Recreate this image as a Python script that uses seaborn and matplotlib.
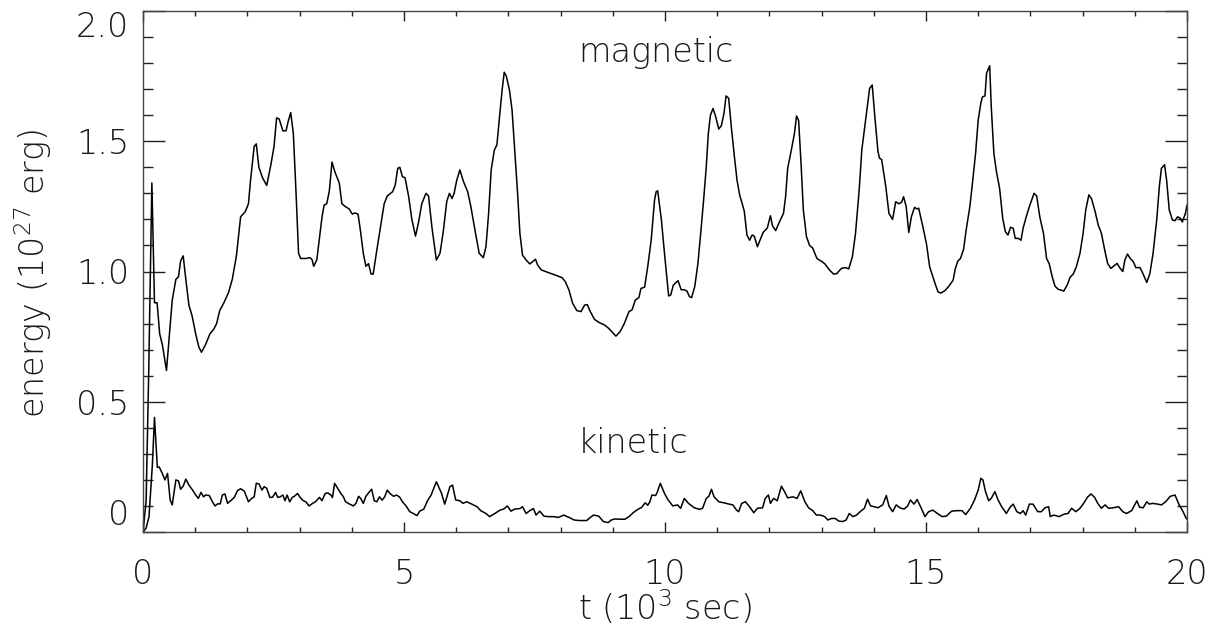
import numpy as np
import pandas as pd
import matplotlib
matplotlib.use("Agg")
import matplotlib.pyplot as plt
from matplotlib.ticker import MultipleLocator, FixedLocator, FixedFormatter
import seaborn as sns

# ---------------- data ----------------
mag_t = [0.00, 0.06, 0.11, 0.17, 0.22, 0.27, 0.32, 0.37, 0.45, 0.56, 0.63, 0.68, 0.72, 0.77, 0.82, 0.88, 0.94,
         1.01, 1.07, 1.12, 1.20, 1.28, 1.36, 1.41, 1.47, 1.55, 1.64, 1.71, 1.79, 1.87, 1.96, 2.02, 2.06, 2.13,
         2.17, 2.22, 2.29, 2.37, 2.45, 2.51, 2.56, 2.61, 2.68, 2.74, 2.78, 2.83, 2.88, 2.93, 2.98, 3.02, 3.12,
         3.20, 3.24, 3.27, 3.33, 3.37, 3.43, 3.47, 3.52, 3.57, 3.62, 3.68, 3.76, 3.81, 3.87, 3.95, 4.01, 4.06,
         4.12, 4.17, 4.22, 4.27, 4.32, 4.37, 4.41, 4.47, 4.56, 4.62, 4.68, 4.78, 4.83, 4.88, 4.92, 4.97, 5.02,
         5.09, 5.15, 5.22, 5.28, 5.34, 5.42, 5.47, 5.535, 5.62, 5.69, 5.75, 5.82, 5.87, 5.92, 5.96, 6.01, 6.07,
         6.14, 6.22, 6.28, 6.37, 6.44, 6.52, 6.57, 6.62, 6.67, 6.73, 6.78, 6.83, 6.88, 6.92, 6.96, 7.02, 7.07,
         7.12, 7.18, 7.22, 7.27, 7.34, 7.41, 7.46, 7.52, 7.56, 7.63, 7.75, 7.85, 7.93, 8.03, 8.09, 8.16, 8.23,
         8.31, 8.39, 8.46, 8.51, 8.57, 8.65, 8.74, 8.84, 8.92, 9.00, 9.06, 9.14, 9.22, 9.31, 9.37, 9.43, 9.50,
         9.54, 9.61, 9.67, 9.735, 9.80, 9.83, 9.86, 9.93, 9.99, 10.07, 10.11, 10.16, 10.25, 10.31, 10.37, 10.42,
         10.47, 10.51, 10.57, 10.63, 10.69, 10.74, 10.79, 10.83, 10.87, 10.92, 10.97, 11.03, 11.08, 11.13,
         11.17, 11.22, 11.27, 11.33, 11.38, 11.43, 11.48, 11.52, 11.57, 11.62, 11.67, 11.71, 11.77, 11.81,
         11.88, 11.96, 12.02, 12.06, 12.12, 12.18, 12.27, 12.31, 12.35, 12.42, 12.48, 12.52, 12.56, 12.61,
         12.65, 12.71, 12.77, 12.83, 12.91, 12.99, 13.06, 13.15, 13.23, 13.29, 13.38, 13.46, 13.52, 13.59,
         13.65, 13.72, 13.77, 13.83, 13.87, 13.92, 13.97, 14.02, 14.08, 14.11, 14.15, 14.23, 14.29, 14.36,
         14.42, 14.48, 14.53, 14.57, 14.62, 14.67, 14.72, 14.78, 14.83, 14.86, 14.94, 15.01, 15.07, 15.14,
         15.18, 15.23, 15.28, 15.36, 15.44, 15.52, 15.56, 15.61, 15.66, 15.72, 15.77, 15.84, 15.89, 15.95,
         16.00, 16.05, 16.08, 16.13, 16.16, 16.22, 16.25, 16.30, 16.35, 16.41, 16.47, 16.52, 16.57, 16.62,
         16.67, 16.71, 16.77, 16.82, 16.86, 16.93, 16.99, 17.07, 17.12, 17.18, 17.25, 17.31, 17.36, 17.42,
         17.47, 17.53, 17.64, 17.71, 17.76, 17.82, 17.88, 17.95, 18.01, 18.06, 18.12, 18.17, 18.24, 18.30,
         18.36, 18.43, 18.48, 18.54, 18.59, 18.66, 18.72, 18.77, 18.81, 18.86, 18.92, 18.97, 19.02, 19.10,
         19.16, 19.23, 19.29, 19.35, 19.42, 19.47, 19.51, 19.57, 19.61, 19.66, 19.72, 19.77, 19.82, 19.87,
         19.91, 19.97, 20.00]
mag_e = [0.00, 0.12, 0.62, 1.34, 0.88, 0.88, 0.76, 0.72, 0.62, 0.89, 0.97, 0.98, 1.04, 1.06, 0.97, 0.87, 0.83,
         0.76, 0.71, 0.69, 0.72, 0.76, 0.78, 0.80, 0.85, 0.88, 0.92, 0.97, 1.06, 1.21, 1.23, 1.26, 1.35, 1.48,
         1.49, 1.40, 1.36, 1.33, 1.41, 1.48, 1.59, 1.585, 1.54, 1.54, 1.575, 1.61, 1.53, 1.31, 1.07, 1.05, 1.05,
         1.053, 1.045, 1.02, 1.045, 1.11, 1.21, 1.255, 1.26, 1.31, 1.42, 1.38, 1.34, 1.26, 1.25, 1.24, 1.22,
         1.225, 1.22, 1.15, 1.07, 1.02, 1.03, 0.99, 0.99, 1.07, 1.185, 1.26, 1.29, 1.306, 1.33, 1.396, 1.40,
         1.364, 1.36, 1.287, 1.20, 1.136, 1.19, 1.26, 1.30, 1.29, 1.17, 1.044, 1.07, 1.15, 1.27, 1.30, 1.28,
         1.30, 1.35, 1.39, 1.345, 1.306, 1.25, 1.147, 1.07, 1.053, 1.095, 1.22, 1.39, 1.466, 1.486, 1.594,
         1.697, 1.765, 1.75, 1.697, 1.62, 1.466, 1.287, 1.147, 1.063, 1.044, 1.029, 1.037, 1.047, 1.025, 1.006,
         0.997, 0.99, 0.984, 0.976, 0.961, 0.929, 0.878, 0.85, 0.846, 0.871, 0.873, 0.846, 0.816, 0.804, 0.795,
         0.782, 0.765, 0.752, 0.769, 0.80, 0.846, 0.853, 0.89, 0.90, 0.935, 0.94, 1.02, 1.12, 1.275, 1.306,
         1.31, 1.20, 1.07, 0.906, 0.91, 0.948, 0.965, 0.93, 0.93, 0.925, 0.903, 0.90, 0.942, 1.03, 1.16, 1.275,
         1.40, 1.53, 1.60, 1.626, 1.595, 1.547, 1.56, 1.607, 1.674, 1.665, 1.556, 1.44, 1.35, 1.294, 1.26,
         1.23, 1.14, 1.12, 1.14, 1.136, 1.095, 1.115, 1.15, 1.167, 1.214, 1.175, 1.157, 1.185, 1.223, 1.287,
         1.396, 1.466, 1.53, 1.597, 1.58, 1.40, 1.236, 1.134, 1.10, 1.09, 1.05, 1.04, 1.03, 1.006, 0.99, 0.992,
         1.012, 1.015, 1.01, 1.057, 1.147, 1.313, 1.466, 1.562, 1.626, 1.703, 1.716, 1.594, 1.46, 1.435, 1.43,
         1.326, 1.223, 1.20, 1.268, 1.26, 1.265, 1.287, 1.25, 1.15, 1.21, 1.246, 1.24, 1.243, 1.172, 1.105,
         1.018, 0.974, 0.95, 0.922, 0.917, 0.926, 0.944, 0.967, 1.01, 1.04, 1.05, 1.085, 1.16, 1.249, 1.339,
         1.454, 1.582, 1.646, 1.67, 1.674, 1.761, 1.79, 1.633, 1.454, 1.383, 1.319, 1.204, 1.153, 1.14, 1.17,
         1.166, 1.127, 1.127, 1.12, 1.166, 1.217, 1.255, 1.30, 1.29, 1.21, 1.147, 1.05, 1.03, 0.978, 0.944,
         0.932, 0.925, 0.95, 0.978, 0.99, 1.018, 1.07, 1.147, 1.236, 1.294, 1.28, 1.23, 1.178, 1.147, 1.076,
         1.031, 1.012, 1.02, 1.031, 1.012, 1.00, 1.044, 1.067, 1.048, 1.038, 1.015, 1.015, 0.99, 0.958, 0.993,
         1.07, 1.198, 1.326, 1.396, 1.41, 1.35, 1.236, 1.198, 1.195, 1.21, 1.205, 1.19, 1.223, 1.255]

kin_t = [0.00, 0.06, 0.115, 0.18, 0.22, 0.275, 0.31, 0.37, 0.42, 0.47, 0.52, 0.56, 0.63, 0.68, 0.72, 0.77, 0.82,
         0.88, 0.95, 1.01, 1.06, 1.11, 1.16, 1.20, 1.27, 1.33, 1.38, 1.43, 1.48, 1.52, 1.57, 1.62, 1.68, 1.75,
         1.81, 1.87, 1.94, 2.02, 2.08, 2.13, 2.17, 2.22, 2.28, 2.32, 2.37, 2.43, 2.48, 2.54, 2.58, 2.63, 2.68,
         2.72, 2.76, 2.81, 2.86, 2.90, 2.96, 3.01, 3.07, 3.12, 3.18, 3.25, 3.31, 3.38, 3.43, 3.49, 3.54, 3.60,
         3.63, 3.67, 3.72, 3.79, 3.84, 3.88, 3.95, 4.03, 4.08, 4.13, 4.17, 4.22, 4.27, 4.34, 4.38, 4.43, 4.48,
         4.53, 4.58, 4.63, 4.68, 4.73, 4.80, 4.86, 4.92, 4.97, 5.04, 5.11, 5.18, 5.25, 5.30, 5.38, 5.45, 5.52,
         5.62, 5.72, 5.78, 5.83, 5.88, 5.93, 5.99, 6.07, 6.13, 6.20, 6.30, 6.40, 6.47, 6.57, 6.64, 6.74, 6.84,
         6.91, 6.98, 7.05, 7.12, 7.22, 7.27, 7.34, 7.41, 7.48, 7.53, 7.60, 7.68, 7.76, 7.86, 7.96, 8.06, 8.16,
         8.26, 8.36, 8.50, 8.57, 8.63, 8.73, 8.82, 8.91, 8.97, 9.04, 9.14, 9.23, 9.31, 9.39, 9.48, 9.55, 9.62,
         9.67, 9.71, 9.75, 9.82, 9.85, 9.91, 9.99, 10.06, 10.15, 10.24, 10.30, 10.37, 10.45, 10.56, 10.66,
         10.72, 10.79, 10.84, 10.89, 10.94, 11.03, 11.13, 11.23, 11.30, 11.37, 11.41, 11.47, 11.54, 11.62,
         11.70, 11.77, 11.87, 11.92, 11.98, 12.02, 12.08, 12.15, 12.23, 12.29, 12.35, 12.45, 12.53, 12.60,
         12.68, 12.75, 12.83, 12.90, 12.98, 13.06, 13.12, 13.19, 13.26, 13.33, 13.40, 13.47, 13.53, 13.60,
         13.67, 13.75, 13.82, 13.88, 13.94, 14.01, 14.08, 14.17, 14.24, 14.29, 14.36, 14.43, 14.50, 14.58,
         14.65, 14.70, 14.77, 14.83, 14.91, 14.98, 15.05, 15.13, 15.22, 15.31, 15.39, 15.49, 15.59, 15.69,
         15.76, 15.85, 15.93, 16.00, 16.05, 16.09, 16.14, 16.20, 16.25, 16.32, 16.38, 16.45, 16.54, 16.61,
         16.67, 16.74, 16.81, 16.86, 16.91, 16.98, 17.05, 17.14, 17.21, 17.28, 17.35, 17.38, 17.45, 17.55,
         17.65, 17.72, 17.79, 17.87, 17.95, 18.02, 18.09, 18.16, 18.23, 18.29, 18.36, 18.43, 18.50, 18.59,
         18.69, 18.77, 18.84, 18.94, 19.04, 19.09, 19.16, 19.23, 19.28, 19.34, 19.44, 19.51, 19.59, 19.68,
         19.77, 19.85, 19.92, 19.99]
kin_e = [0.00, 0.015, 0.059, 0.26, 0.44, 0.248, 0.25, 0.225, 0.20, 0.225, 0.123, 0.104, 0.20, 0.196, 0.164,
         0.176, 0.203, 0.18, 0.161, 0.142, 0.129, 0.152, 0.135, 0.142, 0.14, 0.116, 0.10, 0.108, 0.108, 0.142,
         0.146, 0.11, 0.12, 0.133, 0.159, 0.166, 0.157, 0.116, 0.129, 0.135, 0.187, 0.185, 0.161, 0.174, 0.168,
         0.133, 0.133, 0.152, 0.133, 0.135, 0.142, 0.12, 0.142, 0.116, 0.133, 0.137, 0.148, 0.133, 0.12, 0.116,
         0.10, 0.11, 0.117, 0.133, 0.12, 0.148, 0.15, 0.142, 0.132, 0.187, 0.171, 0.148, 0.135, 0.116, 0.108,
         0.10, 0.11, 0.137, 0.129, 0.11, 0.137, 0.155, 0.164, 0.12, 0.116, 0.135, 0.122, 0.135, 0.161, 0.148,
         0.137, 0.142, 0.133, 0.116, 0.10, 0.078, 0.071, 0.063, 0.08, 0.088, 0.12, 0.142, 0.193, 0.148, 0.107,
         0.14, 0.174, 0.18, 0.123, 0.12, 0.11, 0.116, 0.107, 0.097, 0.082, 0.071, 0.059, 0.071, 0.084, 0.088,
         0.10, 0.08, 0.088, 0.09, 0.097, 0.071, 0.082, 0.09, 0.065, 0.08, 0.061, 0.059, 0.059, 0.056, 0.065,
         0.056, 0.046, 0.044, 0.044, 0.056, 0.065, 0.061, 0.04, 0.036, 0.046, 0.05, 0.049, 0.049, 0.059, 0.074,
         0.087, 0.094, 0.112, 0.103, 0.116, 0.142, 0.14, 0.152, 0.187, 0.148, 0.123, 0.10, 0.104, 0.091, 0.129,
         0.11, 0.093, 0.087, 0.091, 0.129, 0.137, 0.164, 0.135, 0.116, 0.112, 0.107, 0.104, 0.084, 0.078, 0.11,
         0.116, 0.097, 0.074, 0.091, 0.093, 0.129, 0.142, 0.11, 0.129, 0.12, 0.176, 0.155, 0.131, 0.135, 0.129,
         0.158, 0.116, 0.093, 0.082, 0.065, 0.065, 0.059, 0.046, 0.052, 0.052, 0.042, 0.04, 0.046, 0.071, 0.059,
         0.065, 0.08, 0.091, 0.126, 0.10, 0.097, 0.093, 0.104, 0.14, 0.10, 0.078, 0.104, 0.093, 0.088, 0.10,
         0.123, 0.107, 0.125, 0.091, 0.059, 0.078, 0.084, 0.071, 0.059, 0.061, 0.08, 0.082, 0.082, 0.067, 0.091,
         0.123, 0.161, 0.206, 0.20, 0.155, 0.12, 0.129, 0.155, 0.123, 0.097, 0.071, 0.095, 0.107, 0.078, 0.071,
         0.082, 0.065, 0.107, 0.107, 0.078, 0.078, 0.093, 0.097, 0.059, 0.065, 0.059, 0.069, 0.071, 0.091,
         0.078, 0.091, 0.11, 0.133, 0.146, 0.133, 0.11, 0.091, 0.104, 0.091, 0.093, 0.097, 0.078, 0.071, 0.082,
         0.12, 0.095, 0.093, 0.116, 0.107, 0.11, 0.107, 0.104, 0.116, 0.137, 0.142, 0.104, 0.08, 0.05]

x_ticks = [0, 5, 10, 15, 20]
x_tick_labels = ["0", "5", "10", "15", "20"]
y_ticks = [0.0, 0.5, 1.0, 1.5, 2.0]
y_tick_labels = ["0", "0.5", "1.0", "1.5", "2.0"]

# ---------------- style ----------------
sns.set_style("ticks")
FONT = ["DejaVu Sans"]
plt.rcParams["font.family"] = FONT
plt.rcParams["font.weight"] = 200
plt.rcParams["axes.labelweight"] = 200
plt.rcParams["mathtext.fontset"] = "custom"
plt.rcParams["mathtext.rm"] = "DejaVu Sans:light"
plt.rcParams["mathtext.it"] = "DejaVu Sans:light"
plt.rcParams["mathtext.default"] = "rm"

TXT = "#1a1a1a"
FS = 24
W = 200

fig = plt.figure(figsize=(12.13, 6.42), dpi=100)
ax = fig.add_axes([143 / 1213, 1 - 532 / 642, (1187 - 143) / 1213, (532 - 11) / 642])

df_m = pd.DataFrame({"t": mag_t, "E": mag_e})
df_k = pd.DataFrame({"t": kin_t, "E": kin_e})
sns.lineplot(data=df_m, x="t", y="E", ax=ax, color="black", linewidth=1.1, estimator=None, sort=False)
sns.lineplot(data=df_k, x="t", y="E", ax=ax, color="black", linewidth=1.1, estimator=None, sort=False)

ax.set_xlim(0, 20)
ax.set_ylim(0, 2.0)

ax.xaxis.set_major_locator(FixedLocator(x_ticks))
ax.xaxis.set_major_formatter(FixedFormatter(x_tick_labels))
ax.xaxis.set_minor_locator(MultipleLocator(1))
ax.yaxis.set_major_locator(FixedLocator(y_ticks))
ax.yaxis.set_major_formatter(FixedFormatter(y_tick_labels))
ax.yaxis.set_minor_locator(MultipleLocator(0.1))

for s in ax.spines.values():
    s.set_visible(True)
    s.set_linewidth(1.0)
    s.set_color("#444444")

ax.tick_params(which="both", direction="in", top=True, right=True, bottom=True, left=True,
               color="#222222", width=1.0, labelcolor=TXT, labelsize=FS)
ax.tick_params(axis="x", which="major", length=7.5, pad=19)
ax.tick_params(axis="x", which="minor", length=3.5)
ax.tick_params(axis="y", which="major", length=15.5, pad=10)
ax.tick_params(axis="y", which="minor", length=7.5)

fig.canvas.draw()
for lab in ax.get_xticklabels() + ax.get_yticklabels():
    lab.set_fontweight(W)
ylabels = ax.get_yticklabels()
ylabels[0].set_verticalalignment("bottom")
ylabels[-1].set_verticalalignment("top")

ax.set_xlabel("t (10$^{3}$ sec)", fontsize=FS, color=TXT, fontweight=W)
ax.xaxis.set_label_coords(0.5, -0.146)
ax.xaxis.label.set_verticalalignment("center")
ax.set_ylabel("energy (10$^{27}$ erg)", fontsize=FS, color=TXT, fontweight=W)
ax.yaxis.set_label_coords(-0.105, 0.496)
ax.yaxis.label.set_verticalalignment("center")

ax.text(8.33, 1.84, "magnetic", fontsize=FS, color=TXT, ha="left", va="center", fontweight=W)
ax.text(8.33, 0.34, "kinetic", fontsize=FS, color=TXT, ha="left", va="center", fontweight=W)

fig.savefig("out.png", dpi=100)
